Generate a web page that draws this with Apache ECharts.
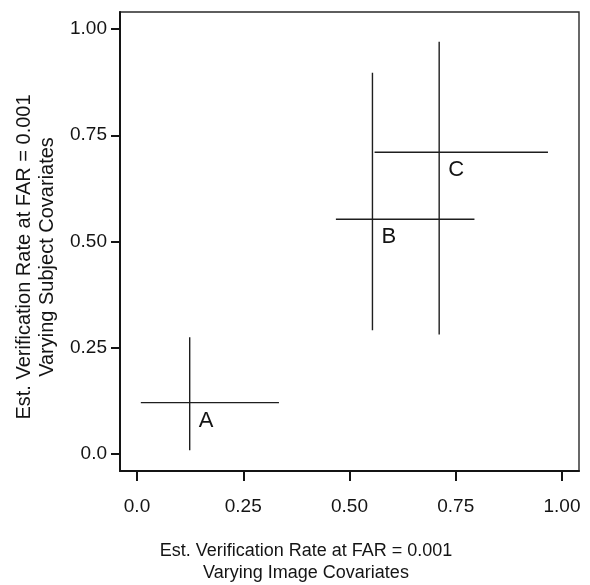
<!DOCTYPE html>
<html>
<head>
<meta charset="utf-8">
<script src="https://cdn.jsdelivr.net/npm/echarts@6/dist/echarts.min.js"></script>
<style>
html,body{margin:0;padding:0;background:#fff;}
#chart{width:590px;height:585px;}
</style>
</head>
<body>
<div id="chart"></div>
<script>
// Data
const labels = ['A', 'B', 'C'];
const centerX = [0.124, 0.554, 0.711];
const centerY = [0.121, 0.5525, 0.710];
const xLow = [0.009, 0.468, 0.559];
const xHigh = [0.334, 0.794, 0.967];
const yLow = [0.009, 0.291, 0.281];
const yHigh = [0.275, 0.897, 0.970];

const xTicks = [0, 0.25, 0.5, 0.75, 1];
const xTickLabels = ['0.0', '0.25', '0.50', '0.75', '1.00'];
const yTicks = [0, 0.25, 0.5, 0.75, 1];
const yTickLabels = ['0.0', '0.25', '0.50', '0.75', '1.00'];

const xTitle = 'Est. Verification Rate at FAR = 0.001\nVarying Image Covariates';
const yTitle = 'Est. Verification Rate at FAR = 0.001\nVarying Subject Covariates';

const FONT = '"Liberation Sans", Arial, Helvetica, sans-serif';
const INK = '#141414';

const crossData = labels.map((l, i) => [centerX[i], centerY[i], xLow[i], xHigh[i], yLow[i], yHigh[i]]);

const chart = echarts.init(document.getElementById('chart'), null, {renderer: 'canvas'});
chart.setOption({
  animation: false,
  backgroundColor: '#fff',
  grid: {
    left: 120, top: 12, width: 459, height: 459,
    show: true, borderColor: '#2a2a2a', borderWidth: 1.4, backgroundColor: 'transparent'
  },
  xAxis: {
    type: 'value', min: -0.04, max: 1.04,
    axisLine: {show: true, onZero: false, lineStyle: {color: '#141414', width: 2}},
    axisTick: {show: true, inside: false, length: 10, lineStyle: {color: '#141414', width: 2}, customValues: xTicks},
    axisLabel: {
      customValues: xTicks, margin: 26, fontSize: 19, color: INK, fontFamily: FONT,
      formatter: v => { const i = xTicks.findIndex(t => Math.abs(t - v) < 1e-9); return i >= 0 ? xTickLabels[i] : ''; }
    },
    splitLine: {show: false}
  },
  yAxis: {
    type: 'value', min: -0.04, max: 1.04,
    axisLine: {show: true, onZero: false, lineStyle: {color: '#141414', width: 2}},
    axisTick: {show: true, inside: false, length: 9, lineStyle: {color: '#141414', width: 2}, customValues: yTicks},
    axisLabel: {
      customValues: yTicks, margin: 13, fontSize: 19, color: INK, fontFamily: FONT,
      formatter: v => { const i = yTicks.findIndex(t => Math.abs(t - v) < 1e-9); return i >= 0 ? yTickLabels[i] : ''; }
    },
    splitLine: {show: false}
  },
  graphic: [
    {
      type: 'text', x: 306, y: 562,
      style: {text: xTitle, textAlign: 'center', textVerticalAlign: 'middle', fontSize: 18, lineHeight: 22, fill: INK, fontFamily: FONT}
    },
    {
      type: 'text', x: 36, y: 257, rotation: Math.PI / 2,
      style: {text: yTitle, textAlign: 'center', textVerticalAlign: 'middle', fontSize: 20, lineHeight: 23, fill: INK, fontFamily: FONT}
    }
  ],
  series: [{
    type: 'custom',
    clip: false,
    data: crossData,
    encode: {x: [0, 2, 3], y: [1, 4, 5]},
    renderItem: function (params, api) {
      const cx = api.value(0), cy = api.value(1);
      const c = api.coord([cx, cy]);
      const xl = api.coord([api.value(2), cy]);
      const xh = api.coord([api.value(3), cy]);
      const yl = api.coord([cx, api.value(4)]);
      const yh = api.coord([cx, api.value(5)]);
      const ls = {stroke: '#1e1e1e', lineWidth: 1.4};
      return {
        type: 'group',
        children: [
          {type: 'line', shape: {x1: xl[0], y1: xl[1], x2: xh[0], y2: xh[1]}, style: ls},
          {type: 'line', shape: {x1: yl[0], y1: yl[1], x2: yh[0], y2: yh[1]}, style: ls},
          {type: 'text', x: c[0] + 9, y: c[1] + 7,
           style: {text: labels[params.dataIndex], textAlign: 'left', textVerticalAlign: 'top', fontSize: 22, fill: INK, fontFamily: FONT}}
        ]
      };
    }
  }]
});
</script>
</body>
</html>
